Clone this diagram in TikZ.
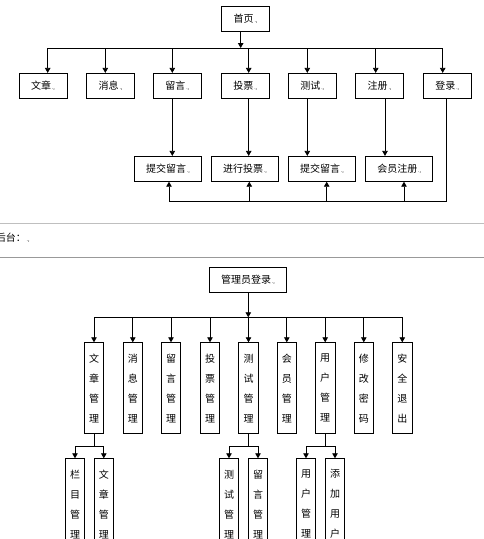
\documentclass[tikz,border=0pt]{standalone}
\usepackage{fontspec}
\setmainfont{Noto Sans CJK SC}
\usetikzlibrary{arrows.meta}
\newcommand\parmk{{\fontsize{5}{5}\selectfont\,.,}}
\begin{document}
\begin{tikzpicture}[x=1pt,y=-1pt,
    box/.style={draw,line width=0.8pt,minimum width=48,minimum height=25,inner sep=0,font=\fontsize{10}{12}\selectfont},
    vbox/.style={draw,line width=0.8pt,minimum width=19.5,minimum height=91,inner sep=0,anchor=north,align=center,font=\fontsize{10}{20}\selectfont},
    line/.style={line width=0.8pt},
    arr/.style={line width=0.8pt,-{Triangle[length=5pt,width=5.5pt]}},
    rule/.style={line width=0.8pt,black!25}]
    \useasboundingbox (0,0) rectangle (484,539);

    \node[box] (home) at (245.5,19) {首页\parmk};
    \node[box] (wz) at (43,85.8) {文章\parmk};
    \node[box] (xx) at (110.5,85.8) {消息\parmk};
    \node[box] (ly) at (177.3,85.8) {留言\parmk};
    \node[box] (tp) at (245.3,85.8) {投票\parmk};
    \node[box] (cs) at (312.3,85.8) {测试\parmk};
    \node[box] (zc) at (379.5,85.8) {注册\parmk};
    \node[box] (dl) at (447.3,85.8) {登录\parmk};
    \node[box,minimum width=67] (tjly1) at (168,168.8) {提交留言\parmk};
    \node[box,minimum width=67] (jxtp) at (245,168.8) {进行投票\parmk};
    \node[box,minimum width=67] (tjly2) at (322,168.8) {提交留言\parmk};
    \node[box,minimum width=67] (hyzc) at (399.2,168.8) {会员注册\parmk};

    \coordinate (hb) at (240.7,48);
    \coordinate (b1) at (47.7,48);
    \coordinate (b2) at (105.3,48);
    \coordinate (b3) at (172.3,48);
    \coordinate (b4) at (248.7,48);
    \coordinate (b5) at (307.3,48);
    \coordinate (b6) at (375.7,48);
    \coordinate (b7) at (442.7,48);
    \coordinate (fb) at (169,201);
    \coordinate (u2) at (249.3,201);
    \coordinate (u3) at (326.7,201);
    \coordinate (u4) at (404,201);

    \draw[arr] (home.south -| hb) -- (hb);
    \draw[line] (b1) -- (b7);
    \foreach \b/\n in {b1/wz,b2/xx,b3/ly,b4/tp,b5/cs,b6/zc,b7/dl}
        \draw[arr] (\b) -- (\b |- \n.north);
    \draw[arr] ([xshift=-5]ly.south) -- ([xshift=-5]ly.south |- tjly1.north);
    \draw[arr] ([xshift=3.4]tp.south) -- ([xshift=3.4]tp.south |- jxtp.north);
    \draw[arr] ([xshift=-5]cs.south) -- ([xshift=-5]cs.south |- tjly2.north);
    \draw[arr] ([xshift=5.5]zc.south) -- ([xshift=5.5]zc.south |- hyzc.north);
    \draw[arr] ([xshift=-0.6]dl.south) |- (fb) -- (fb |- tjly1.south);
    \foreach \u/\n in {u2/jxtp,u3/tjly2,u4/hyzc}
        \draw[arr] (\u) -- (\u |- \n.south);

    \draw[rule] (0,223.3) -- (484,223.3);
    \draw[rule,black!40] (0,257.3) -- (484,257.3);
    \node[anchor=west,inner sep=0,font=\fontsize{10}{12}\selectfont] (ht) at (-4.3,238) {后台：\parmk};

    \node[box,minimum width=77] (glydl) at (248,279.8) {管理员登录\parmk};
    \node[vbox] (wzgl) at (94,342.3) {文\\章\\管\\理};
    \node[vbox] (xxgl) at (132.8,342.3) {消\\息\\管\\理};
    \node[vbox] (lygl) at (171,342.3) {留\\言\\管\\理};
    \node[vbox] (tpgl) at (210,342.3) {投\\票\\管\\理};
    \node[vbox] (csgl) at (248.5,342.3) {测\\试\\管\\理};
    \node[vbox] (hygl) at (286.8,342.3) {会\\员\\管\\理};
    \node[vbox] (yhgl) at (325.2,342.3) {用\\户\\管\\理};
    \node[vbox] (xgmm) at (363.8,342.3) {修\\改\\密\\码};
    \node[vbox] (aqtc) at (402.3,342.3) {安\\全\\退\\出};
    \node[vbox] (lmgl) at (75,458.3) {栏\\目\\管\\理};
    \node[vbox] (wzgl2) at (103.8,458.3) {文\\章\\管\\理};
    \node[vbox] (csgl2) at (229,458.3) {测\\试\\管\\理};
    \node[vbox] (lygl2) at (258,458.3) {留\\言\\管\\理};
    \node[vbox] (yhgl2) at (306,458.3) {用\\户\\管\\理};
    \node[vbox] (tjyh) at (335,458.3) {添\\加\\用\\户};

    \coordinate (ab) at (248.3,317.3);
    \coordinate (sb) at (0,446);

    \draw[arr] (glydl.south -| ab) -- (ab);
    \draw[line] (wzgl.north |- ab) -- (aqtc.north |- ab);
    \foreach \n in {wzgl,xxgl,lygl,tpgl,csgl,hygl,yhgl,xgmm,aqtc}
        \draw[arr] (\n.north |- ab) -- (\n.north);
    \foreach \p/\l/\r in {wzgl/lmgl/wzgl2,csgl/csgl2/lygl2,yhgl/yhgl2/tjyh} {
        \draw[line] (\p.south) -- (\p.south |- sb);
        \draw[line] (\l.north |- sb) -- (\r.north |- sb);
        \draw[arr] (\l.north |- sb) -- (\l.north);
        \draw[arr] (\r.north |- sb) -- (\r.north);
    }
\end{tikzpicture}
\end{document}
